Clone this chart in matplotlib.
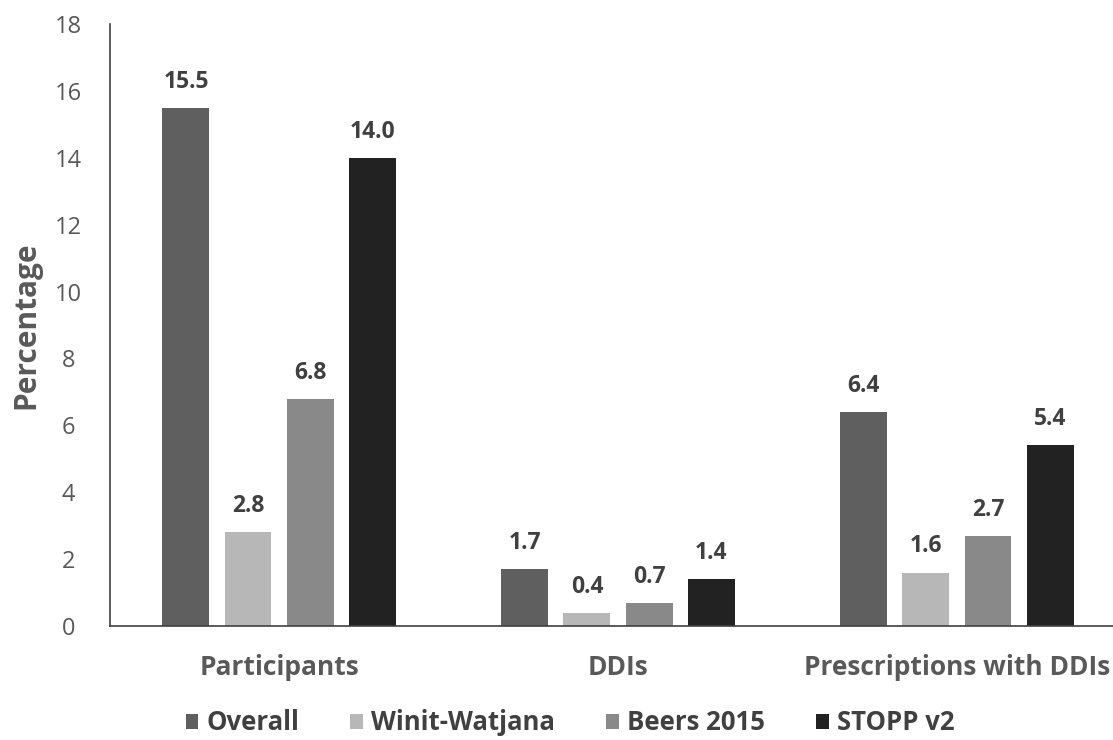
import matplotlib
matplotlib.use("Agg")
import matplotlib.pyplot as plt
import numpy as np

categories = ["Participants", "DDIs", "Prescriptions with DDIs"]
series = ["Overall", "Winit-Watjana", "Beers 2015", "STOPP v2"]
overall = [15.5, 1.7, 6.4]
winit = [2.8, 0.4, 1.6]
beers = [6.8, 0.7, 2.7]
stopp = [14.0, 1.4, 5.4]
colors = ["#5f5f5f", "#b7b7b7", "#898989", "#222222"]
yticks = [0, 2, 4, 6, 8, 10, 12, 14, 16, 18]


def main():
    plt.rcParams["font.family"] = ["Open Sans", "DejaVu Sans"]
    fig = plt.figure(figsize=(11.13, 7.4), dpi=100)
    # plot area runs a little past the right edge of the canvas
    ax = fig.add_axes([0.0984, 0.154, 0.9137, 0.8136])

    x = np.arange(len(categories))
    width = 0.1386
    step = 0.183
    for i, (name, vals) in enumerate(zip(series, [overall, winit, beers, stopp])):
        pos = x + (i - 1.5) * step
        bars = ax.bar(pos, vals, width, color=colors[i], label=name)
        for b, v in zip(bars, vals):
            ax.text(b.get_x() + b.get_width() / 2, v + 0.42, f"{v:.1f}",
                    ha="center", va="bottom", fontsize=16.5,
                    fontweight="bold", color="#404040")

    ax.set_xlim(-0.5, 2.5)
    ax.set_ylim(0, 18)
    ax.set_yticks(yticks)
    ax.set_xticks(x)
    ax.set_xticklabels(categories, fontsize=19, fontweight="bold",
                       color="#595959")
    ax.tick_params(axis="y", length=0, labelsize=17, labelcolor="#595959",
                   pad=29.5)
    ax.tick_params(axis="x", length=0, pad=20)
    for lbl in ax.get_yticklabels():
        lbl.set_horizontalalignment("center")

    for side in ["top", "right"]:
        ax.spines[side].set_visible(False)
    ax.spines["left"].set_color("#404040")
    ax.spines["bottom"].set_color("#404040")
    ax.spines["left"].set_linewidth(1.2)
    ax.spines["bottom"].set_linewidth(1.2)

    ax.set_ylabel("Percentage", fontsize=21.5, fontweight="bold",
                  color="#595959")
    ax.yaxis.set_label_coords(-0.067, 0.5)

    handles, labels = ax.get_legend_handles_labels()
    leg = fig.legend(handles, labels, loc="center",
                     bbox_to_anchor=(570 / 1113, 17 / 740),
                     ncol=4, frameon=False, fontsize=18.5, handlelength=0.5,
                     handleheight=0.5, handletextpad=0.3, columnspacing=2.0)
    for t in leg.get_texts():
        t.set_color("#404040")
        t.set_fontweight("bold")

    fig.savefig("out.png", dpi=100)


if __name__ == "__main__":
    main()
